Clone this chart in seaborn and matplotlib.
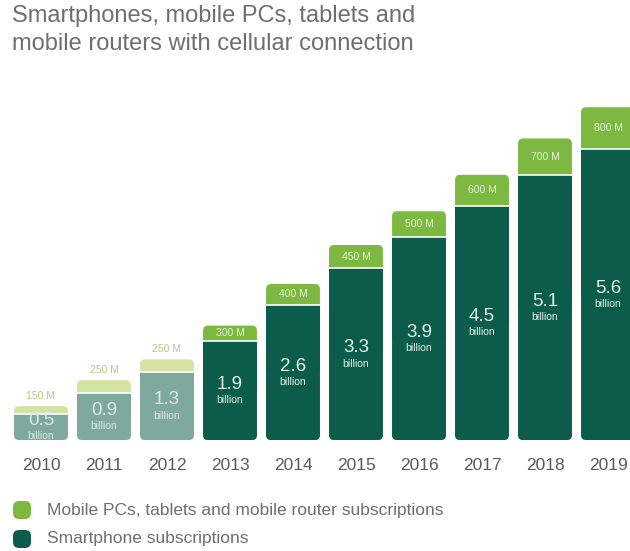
import matplotlib
matplotlib.use("Agg")
import matplotlib.pyplot as plt
from matplotlib.patches import FancyBboxPatch
import seaborn as sns
import pandas as pd

years = ["2010", "2011", "2012", "2013", "2014", "2015", "2016", "2017", "2018", "2019"]
smartphone_bn = [0.5, 0.9, 1.3, 1.9, 2.6, 3.3, 3.9, 4.5, 5.1, 5.6]
other_m = [150, 250, 250, 300, 400, 450, 500, 600, 700, 800]
historic = [True, True, True, False, False, False, False, False, False, False]

title = "Smartphones, mobile PCs, tablets and\nmobile routers with cellular connection"
legend_labels = ["Mobile PCs, tablets and mobile router subscriptions",
                 "Smartphone subscriptions"]

DARK = "#0b5c4a"
LIGHT = "#7db940"
DARK_FADED = "#80a99d"
LIGHT_FADED = "#d4e3a2"
TEXT_GREY = "#6e6e6e"

df = pd.DataFrame({
    "year": years,
    "smart": smartphone_bn,
    "total": [s + o / 1000 for s, o in zip(smartphone_bn, other_m)],
})

sns.set_theme(style="white")
plt.rcParams["font.family"] = ["Liberation Sans", "DejaVu Sans"]

W, H = 630, 551
fig = plt.figure(figsize=(W / 100, H / 100), dpi=100)
# axes span the full width; bars spaced 63 px, baseline at y=440 px
ax_bottom_px, ax_top_px = 440, 90
ax = fig.add_axes([0, (H - ax_bottom_px) / H, 1, (ax_bottom_px - ax_top_px) / H])
px_per_y = 52.0
px_per_x = 63.0

light_pal = [LIGHT_FADED if h else LIGHT for h in historic]
dark_pal = [DARK_FADED if h else DARK for h in historic]
bw = 0.855

sns.barplot(data=df, x="year", y="total", hue="year", palette=light_pal,
            width=bw, legend=False, ax=ax, saturation=1, linewidth=0)
n_light = len(ax.patches)
sns.barplot(data=df, x="year", y="smart", hue="year", palette=dark_pal,
            width=bw, legend=False, ax=ax, saturation=1, linewidth=0)

ax.set_xlim(-41 / px_per_x, (W - 41) / px_per_x)
ax.set_ylim(0, (ax_bottom_px - ax_top_px) / px_per_y)

r_x = 5 / px_per_x
aspect = px_per_x / px_per_y
patches = list(ax.patches)
for k, p in enumerate(patches):
    x0, y0, w, h = p.get_x(), p.get_y(), p.get_width(), p.get_height()
    if h <= 0:
        continue
    rb = FancyBboxPatch((x0, y0), w, h,
                        boxstyle=f"round,pad=0,rounding_size={r_x}",
                        mutation_aspect=aspect,
                        facecolor=p.get_facecolor(), edgecolor="none",
                        zorder=p.get_zorder())
    ax.add_patch(rb)
    if k >= n_light:
        # square off the top of the smartphone segment
        p.set_y(y0 + h / 2)
        p.set_height(h / 2)
        p.set_zorder(p.get_zorder() + 0.1)
        ax.plot([x0, x0 + w], [y0 + h, y0 + h], color="white", lw=1.2,
                zorder=5, solid_capstyle="butt")
    else:
        p.set_visible(False)

for i, (s, o, t, hist) in enumerate(zip(smartphone_bn, other_m, df["total"], historic)):
    num_col = "#d9e9e4" if hist else "#e4f1ec"
    ax.text(i, s / 2 + 0.12, f"{s:.1f}", ha="center", va="center",
            fontsize=13.5, color=num_col, zorder=6)
    ax.text(i, s / 2 - 0.18, "billion", ha="center", va="center",
            fontsize=7.5, color=num_col, zorder=6)
    if hist:
        ax.text(i, t + 0.2, f"{o} M", ha="center", va="center",
                fontsize=7.5, color="#b4c983", zorder=6)
    else:
        ax.text(i, s + (t - s) / 2, f"{o} M", ha="center", va="center",
                fontsize=7.5, color="#e8f3d8", zorder=6)

sns.despine(ax=ax, left=True, bottom=True)
ax.set_xlabel("")
ax.set_ylabel("")
ax.set_yticks([])
ax.tick_params(axis="x", length=0, pad=13, labelsize=12.5, labelcolor="#5a5a5a")
ax.set_xticks(range(len(years)))
ax.set_xticklabels(years)

fig.text(12 / W, 1 - 30 / H, title, fontsize=17, color=TEXT_GREY,
         va="center", ha="left", linespacing=1.3)

for j, (lab, col) in enumerate(zip(legend_labels, [LIGHT, DARK])):
    cy = 510 + 29 * j
    sq = 18
    fig.patches.append(FancyBboxPatch(((22 - sq / 2) / W, 1 - (cy + sq / 2) / H),
                                      sq / W, sq / H,
                                      boxstyle=f"round,pad=0,rounding_size={6 / W}",
                                      mutation_aspect=W / H,
                                      transform=fig.transFigure,
                                      facecolor=col, edgecolor="none"))
    fig.text(47 / W, 1 - cy / H, lab, fontsize=12.5, color=TEXT_GREY,
             va="center", ha="left")

fig.savefig("out.png", dpi=100, facecolor="white")
